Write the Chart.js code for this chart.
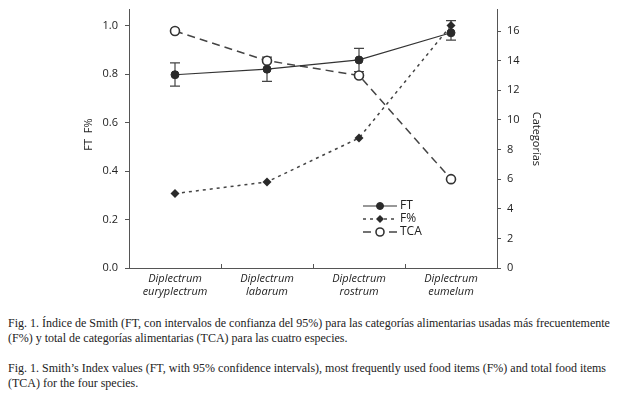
<!DOCTYPE html>
<html>
<head>
<meta charset="utf-8">
<script src="https://cdn.jsdelivr.net/npm/chart.js@4.4.1/dist/chart.umd.min.js"></script>
<style>
  html,body{margin:0;padding:0;background:#fff;}
  #wrap{position:relative;width:620px;height:394px;}
  #c{position:absolute;left:0;top:0;}
  .cap{position:absolute;left:8px;font-family:"Liberation Serif","Times New Roman",serif;font-size:12px;color:#222;white-space:nowrap;line-height:15px;}
</style>
</head>
<body>
<div id="wrap">
  <canvas id="c" width="620" height="300"></canvas>
  <div class="cap" style="top:316px">Fig. 1. Índice de Smith (FT, con intervalos de confianza del 95%) para las categorías alimentarias usadas más frecuentemente<br>(F%) y total de categorías alimentarias (TCA) para las cuatro especies.</div>
  <div class="cap" style="top:361px">Fig. 1. Smith’s Index values (FT, with 95% confidence intervals), most frequently used food items (F%) and total food items<br>(TCA) for the four species.</div>
</div>
<script>
const categories = [["Diplectrum","euryplectrum"],["Diplectrum","labarum"],["Diplectrum","rostrum"],["Diplectrum","eumelum"]];
const ftValues = [0.797, 0.82, 0.858, 0.97];
const ftLow    = [0.75, 0.77, 0.81, 0.94];
const ftHigh   = [0.846, 0.87, 0.906, 1.02];
const fPercent = [0.307, 0.355, 0.536, 1.0];
const tcaValues = [16, 14, 13, 6];
const leftTicks = [0, 0.2, 0.4, 0.6, 0.8, 1.0];
const rightTicks = [0, 2, 4, 6, 8, 10, 12, 14, 16];

const tickFont = {family:"'Open Sans', 'Noto Sans', sans-serif", size:11, lineHeight:0.5};
const ink = '#2a2a2a';

const errorBars = {
  id:'errorBars',
  beforeDatasetsDraw(chart){
    const ctx = chart.ctx, x = chart.scales.x, y = chart.scales.y;
    ctx.save();
    ctx.strokeStyle = '#444'; ctx.lineWidth = 1.2;
    for (let i=0;i<ftValues.length;i++){
      const px = x.getPixelForValue(i);
      const yl = y.getPixelForValue(ftLow[i]), yh = y.getPixelForValue(ftHigh[i]);
      ctx.beginPath();
      ctx.moveTo(px, yl); ctx.lineTo(px, yh);
      ctx.moveTo(px-5, yl); ctx.lineTo(px+5, yl);
      ctx.moveTo(px-5, yh); ctx.lineTo(px+5, yh);
      ctx.stroke();
    }
    ctx.strokeStyle = '#555'; ctx.lineWidth = 1;
    const b = chart.chartArea.bottom;
    for (let i=1;i<categories.length;i++){
      const px = Math.round((x.getPixelForValue(i-1)+x.getPixelForValue(i))/2)+0.5;
      ctx.beginPath(); ctx.moveTo(px,b); ctx.lineTo(px,b-4); ctx.stroke();
    }
    ctx.restore();
  }
};

const customLegend = {
  id:'customLegend',
  afterDraw(chart){
    const ctx = chart.ctx;
    const x0 = 363, x1 = 397, xm = 380, tx = 400;
    const rows = [206, 219, 232];
    ctx.save();
    chart.data.datasets.forEach((ds, i) => {
      const yy = rows[i];
      ctx.strokeStyle = ds.borderColor; ctx.lineWidth = ds.borderWidth;
      ctx.setLineDash(ds.borderDash || []);
      ctx.beginPath(); ctx.moveTo(x0, yy); ctx.lineTo(x1, yy); ctx.stroke();
      ctx.setLineDash([]);
      const r = ds.pointRadius - 0.5;
      if (ds.pointStyle === 'circle') {
        ctx.beginPath(); ctx.arc(xm, yy, r, 0, Math.PI*2);
        ctx.fillStyle = ds.pointBackgroundColor; ctx.fill();
        ctx.lineWidth = ds.pointBorderWidth; ctx.strokeStyle = ds.pointBorderColor; ctx.stroke();
      } else {
        ctx.beginPath(); ctx.moveTo(xm, yy-r); ctx.lineTo(xm+r, yy); ctx.lineTo(xm, yy+r); ctx.lineTo(xm-r, yy); ctx.closePath();
        ctx.fillStyle = ds.pointBackgroundColor; ctx.fill();
      }
      ctx.fillStyle = '#222';
      ctx.font = "12px 'Open Sans', 'Noto Sans', sans-serif";
      ctx.textBaseline = 'middle'; ctx.textAlign = 'left';
      ctx.fillText(ds.label, tx, yy);
    });
    ctx.restore();
  }
};

new Chart(document.getElementById('c'), {
  type:'line',
  data:{
    labels: categories,
    datasets:[
      {label:'FT', data:ftValues, yAxisID:'y', borderColor:'#333', borderWidth:1.2,
       pointStyle:'circle', pointRadius:4, pointBackgroundColor:ink, pointBorderColor:ink, pointBorderWidth:1, order:1},
      {label:'F%', data:fPercent, yAxisID:'y', borderColor:'#444', borderWidth:1.5, borderDash:[3,4],
       pointStyle:'rectRot', pointRadius:4.5, pointBackgroundColor:ink, pointBorderColor:ink, pointBorderWidth:0, order:2},
      {label:'TCA', data:tcaValues, yAxisID:'y2', borderColor:'#444', borderWidth:1.5, borderDash:[8,5],
       pointStyle:'circle', pointRadius:4.5, pointBackgroundColor:'#fff', pointBorderColor:'#333', pointBorderWidth:1.6, order:3}
    ]
  },
  options:{
    responsive:false, animation:false,
    layout:{padding:{left:82, right:77, top:5, bottom:0}},
    plugins:{legend:{display:false}, tooltip:{enabled:false}},
    scales:{
      x:{
        offset:true,
        grid:{display:false, drawTicks:false},
        border:{display:true, color:'#555', width:1},
        ticks:{color:'#222', padding:4, font:{family:"'Open Sans', 'Noto Sans', sans-serif", size:11, style:'italic', lineHeight:1.2}, maxRotation:0, autoSkip:false},
        afterFit(s){ s.height = 32; }
      },
      y:{
        position:'left', min:0, max:1.065,
        afterBuildTicks(s){ s.ticks = leftTicks.map(v => ({value:v})); },
        ticks:{color:'#222', font:tickFont, padding:7, callback:v => v.toFixed(1)},
        grid:{drawOnChartArea:false, tickLength:4, color:'#555'},
        border:{display:true, color:'#555', width:1},
        title:{display:true, text:'   FT  F%', color:'#222', font:{family:"'Open Sans', 'Noto Sans', sans-serif", size:11}, padding:0},
        afterFit(s){ s.width = 47; }
      },
      y2:{
        position:'right', min:0, max:17.44,
        afterBuildTicks(s){ s.ticks = rightTicks.map(v => ({value:v})); },
        ticks:{color:'#222', font:tickFont, padding:6},
        grid:{drawOnChartArea:false, tickLength:4, color:'#555'},
        border:{display:true, color:'#555', width:1},
        title:{display:true, text:'Categorías', color:'#222', font:{family:"'Open Sans', 'Noto Sans', sans-serif", size:11}, padding:0},
        afterFit(s){ s.width = 46; }
      }
    }
  },
  plugins:[errorBars, customLegend]
});
</script>
</body>
</html>
